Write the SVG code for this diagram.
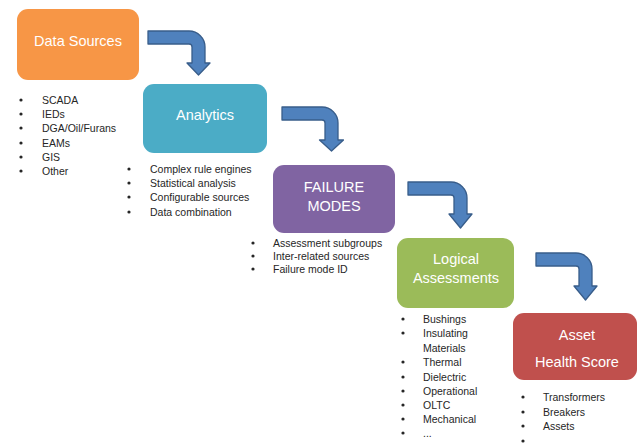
<svg xmlns="http://www.w3.org/2000/svg" width="637" height="444" viewBox="0 0 637 444">
  <style>
    .box { stroke: none; }
    .title { font-family: "Liberation Sans", Arial, sans-serif; font-size: 14.5px; fill: #ffffff; text-anchor: middle; }
    .item { font-family: "Liberation Sans", Arial, sans-serif; font-size: 10.5px; fill: #262626; }
    .dot { fill: #262626; }
    .arrow { fill: #4F81BD; stroke: #385D8A; stroke-width: 1.3; stroke-linejoin: round; }
  </style>
  <defs>
    <circle id="bullet" r="1.6" class="dot"/>
  </defs>
  <rect width="637" height="444" fill="#ffffff"/>

  <!-- bent arrows between stages -->
  <g id="connectors">
    <path class="arrow" d="M148 31 H189 A16 16 0 0 1 205 47 V63 H210 L198.5 75 L187 63 H192 V47 A3 3 0 0 0 189 44 H148 Z"/>
    <path class="arrow" d="M282 107 H322 A16 16 0 0 1 338 123 V140 H343.5 L331.5 151 L319.5 140 H325 V123 A3 3 0 0 0 322 120 H282 Z"/>
    <path class="arrow" d="M408 182 H451 A16 16 0 0 1 467 198 V214 H472 L460.5 228 L449 214 H454 V198 A3 3 0 0 0 451 195 H408 Z"/>
    <path class="arrow" d="M536 253 H576 A16 16 0 0 1 592 269 V286 H597 L585.5 300 L574 286 H579 V269 A3 3 0 0 0 576 266 H536 Z"/>
  </g>

  <g id="data-sources">
    <rect class="box" x="17" y="9" width="122" height="71" rx="11" fill="#F79646"/>
    <text class="title" x="78" y="46">Data Sources</text>
    <g>
      <use href="#bullet" x="21" y="100"/><text class="item" x="42" y="104">SCADA</text>
      <use href="#bullet" x="21" y="114"/><text class="item" x="42" y="118">IEDs</text>
      <use href="#bullet" x="21" y="128"/><text class="item" x="42" y="132">DGA/Oil/Furans</text>
      <use href="#bullet" x="21" y="143"/><text class="item" x="42" y="147">EAMs</text>
      <use href="#bullet" x="21" y="157"/><text class="item" x="42" y="161">GIS</text>
      <use href="#bullet" x="21" y="171"/><text class="item" x="42" y="175">Other</text>
    </g>
  </g>

  <g id="analytics">
    <rect class="box" x="143" y="84" width="124" height="69" rx="11" fill="#4BACC6"/>
    <text class="title" x="205" y="120">Analytics</text>
    <g>
      <use href="#bullet" x="129" y="169"/><text class="item" x="150" y="173">Complex rule engines</text>
      <use href="#bullet" x="129" y="183"/><text class="item" x="150" y="187">Statistical analysis</text>
      <use href="#bullet" x="129" y="197"/><text class="item" x="150" y="201">Configurable sources</text>
      <use href="#bullet" x="129" y="212"/><text class="item" x="150" y="216">Data combination</text>
    </g>
  </g>

  <g id="failure-modes">
    <rect class="box" x="273" y="165" width="122" height="68" rx="11" fill="#8064A2"/>
    <text class="title" x="334" y="192">FAILURE</text>
    <text class="title" x="334" y="211">MODES</text>
    <g>
      <use href="#bullet" x="253" y="243"/><text class="item" x="273" y="247">Assessment subgroups</text>
      <use href="#bullet" x="253" y="256"/><text class="item" x="273" y="260">Inter-related sources</text>
      <use href="#bullet" x="253" y="269"/><text class="item" x="273" y="273">Failure mode ID</text>
    </g>
  </g>

  <g id="logical-assessments">
    <rect class="box" x="397" y="238" width="117" height="70" rx="11" fill="#9BBB59"/>
    <text class="title" x="456" y="264">Logical</text>
    <text class="title" x="456" y="283">Assessments</text>
    <g>
      <use href="#bullet" x="403" y="319"/><text class="item" x="423" y="323">Bushings</text>
      <use href="#bullet" x="403" y="333"/><text class="item" x="423" y="337">Insulating</text>
      <text class="item" x="423" y="352">Materials</text>
      <use href="#bullet" x="403" y="362"/><text class="item" x="423" y="366">Thermal</text>
      <use href="#bullet" x="403" y="377"/><text class="item" x="423" y="381">Dielectric</text>
      <use href="#bullet" x="403" y="391"/><text class="item" x="423" y="395">Operational</text>
      <use href="#bullet" x="403" y="405"/><text class="item" x="423" y="409">OLTC</text>
      <use href="#bullet" x="403" y="419"/><text class="item" x="423" y="423">Mechanical</text>
      <use href="#bullet" x="403" y="433"/><text class="item" x="423" y="437">...</text>
    </g>
  </g>

  <g id="asset-health-score">
    <rect class="box" x="513" y="313" width="124" height="67" rx="11" fill="#C0504D"/>
    <text class="title" x="577" y="340">Asset</text>
    <text class="title" x="577" y="367">Health Score</text>
    <g>
      <use href="#bullet" x="523" y="397"/><text class="item" x="543" y="401">Transformers</text>
      <use href="#bullet" x="523" y="412"/><text class="item" x="543" y="416">Breakers</text>
      <use href="#bullet" x="523" y="426"/><text class="item" x="543" y="430">Assets</text>
      <use href="#bullet" x="523" y="441"/>
    </g>
  </g>
</svg>
